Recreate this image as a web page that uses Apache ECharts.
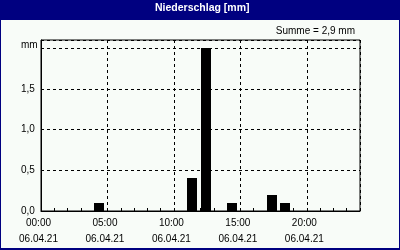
<!DOCTYPE html>
<html><head><meta charset="utf-8">
<script src="https://cdn.jsdelivr.net/npm/echarts@6/dist/echarts.min.js"></script>
<style>html,body{margin:0;padding:0;background:#f8fcf8}#c{width:400px;height:250px}</style>
</head><body><div id="c"></div>
<script>
var titleText = 'Niederschlag [mm]';
var dateLabel = '06.04.21';
var hours = [4, 11, 12, 14, 17, 18];
var values = [0.1, 0.4, 2.0, 0.1, 0.2, 0.1];
var xLabelHours = [0, 5, 10, 15, 20];
var yTicks = [0, 0.5, 1.0, 1.5, 2.0];
var unit = 'mm';

var total = values.reduce(function(a,b){return a+b;},0);
var sumText = 'Summe = ' + total.toFixed(1).replace('.', ',') + ' ' + unit;
var navy = '#000080';
var font = 'Liberation Sans';

var chart = echarts.init(document.getElementById('c'), null, {renderer:'canvas'});
chart.setOption({
  animation: false,
  backgroundColor: '#f8fcf8',
  textStyle: {fontFamily: font},
  graphic: [
    {type:'rect', shape:{x:0,y:0,width:400,height:20}, style:{fill:navy}, z:-1},
    {type:'rect', shape:{x:0,y:0,width:400,height:249}, style:{fill:'none', stroke:navy, lineWidth:2}, z:10}
  ],
  title: [
    {text: titleText, left: 155, top: 3, padding: 0,
     textStyle:{color:'#fff', fontSize:10.5, fontWeight:'bold', fontFamily:font}},
    {text: sumText, right: 45, top: 26, padding: 0,
     textStyle:{color:'#000', fontSize:10, fontWeight:'normal', fontFamily:font}}
  ],
  grid: {left:41, right:40, top:40, bottom:39, show:true, borderColor:'#000', borderWidth:1, backgroundColor:'transparent'},
  xAxis: [
    {type:'value', min:0, max:24, interval:5,
     axisLine:{show:true, lineStyle:{color:'#000', width:1}},
     axisTick:{show:false},
     splitLine:{show:true, lineStyle:{color:'#000', type:[3,3], width:1}},
     axisLabel:{show:true, showMaxLabel:false, margin:4, color:'#000', fontSize:10, lineHeight:16, padding:[0,5,0,0],
       formatter:function(v){ if(xLabelHours.indexOf(v)<0) return ''; var h=(v<10?'0':'')+v; return h+':00\n'+dateLabel; }}
    },
    {type:'value', min:0, max:24, interval:1, position:'bottom',
     axisLine:{show:false}, axisLabel:{show:false}, splitLine:{show:false},
     axisTick:{show:true, inside:true, length:3, lineStyle:{color:'#000'}}}
  ],
  yAxis: {type:'value', min:0, max:2.1, interval:0.5,
    axisLine:{show:true, lineStyle:{color:'#000'}},
    axisTick:{show:false},
    splitLine:{show:true, lineStyle:{color:'#000', type:[3,3], width:1}},
    axisLabel:{showMaxLabel:false, align:'left', margin:20, color:'#000', fontSize:10,
      formatter:function(v){ if(yTicks.indexOf(v)<0) return ''; if(v===2) return '{u|'+unit+'}'; return v.toFixed(1).replace('.', ','); },
      rich:{u:{fontSize:10, color:'#000', padding:[0,0,6,0], fontFamily:font}}}
  },
  series: [{
    type:'custom', xAxisIndex:0,
    data: hours.map(function(h,i){return [h, values[i]];}),
    renderItem: function(params, api){
      var h = api.value(0), v = api.value(1);
      var p0 = api.coord([h, 0]);
      var p1 = api.coord([h + 0.75, v]);
      return {type:'rect', shape:{x:Math.round(p0[0]), y:Math.round(p1[1]), width:Math.round(p1[0]-p0[0]), height:Math.round(p0[1]-p1[1])}, style:{fill:'#000'}};
    },
    z: 5
  }]
});
</script></body></html>
